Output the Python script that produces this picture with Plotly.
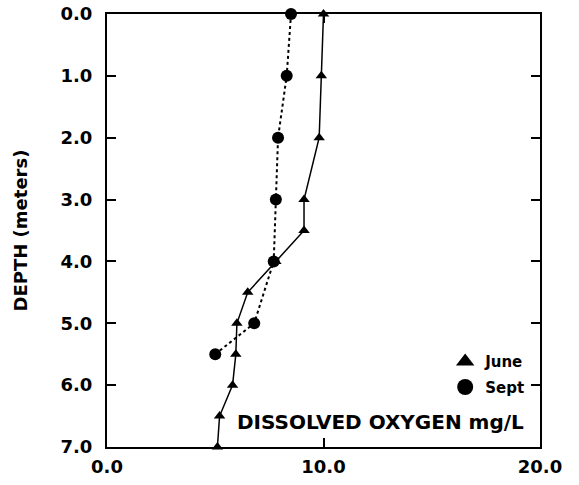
import plotly.graph_objects as go

# Dissolved oxygen profiles (mg/L) by depth (m)
june_depth = [0, 1, 2, 3, 3.5, 4, 4.5, 5, 5.5, 6, 6.5, 7]
june_do = [10.0, 9.9, 9.8, 9.1, 9.1, 7.8, 6.5, 6.0, 5.95, 5.8, 5.2, 5.1]

sept_depth = [0, 1, 2, 3, 4, 5, 5.5]
sept_do = [8.5, 8.3, 7.9, 7.8, 7.7, 6.8, 5.0]

x_ticks = [0, 10, 20]
x_tick_labels = ["0.0", "10.0", "20.0"]
y_ticks = [0, 1, 2, 3, 4, 5, 6, 7]
y_tick_labels = ["0.0", "1.0", "2.0", "3.0", "4.0", "5.0", "6.0", "7.0"]

FONT = "DejaVu Sans"

fig = go.Figure()

fig.add_trace(go.Scatter(
    x=june_do, y=june_depth, mode="lines+markers", name="June",
    line=dict(color="black", width=1.5),
    marker=dict(symbol="triangle-up", size=10, color="black"),
    cliponaxis=False, showlegend=False,
))
fig.add_trace(go.Scatter(
    x=sept_do, y=sept_depth, mode="lines+markers", name="Sept",
    line=dict(color="black", width=2, dash="dot"),
    marker=dict(symbol="circle", size=12, color="black"),
    cliponaxis=False, showlegend=False,
))

# marker-only legend entries
fig.add_trace(go.Scatter(
    x=[None], y=[None], mode="markers", name="June", legendgroup="june",
    marker=dict(symbol="triangle-up", size=16, color="black"),
))
fig.add_trace(go.Scatter(
    x=[None], y=[None], mode="markers", name="Sept", legendgroup="sept",
    marker=dict(symbol="circle", size=16, color="black"),
))

axis_common = dict(
    showgrid=False, zeroline=False, automargin=False,
    showline=True, linecolor="black", linewidth=2, mirror="ticks",
    ticks="inside", ticklen=9, tickwidth=1.5, tickcolor="black",
    tickfont=dict(family=FONT, size=18, color="black", weight="bold"),
)

fig.update_layout(
    width=579, height=485,
    margin=dict(l=107, r=39, t=14, b=38, autoexpand=False),
    paper_bgcolor="white", plot_bgcolor="white",
    xaxis=dict(range=[0, 20], tickvals=x_ticks, ticktext=x_tick_labels,
               ticklabelstandoff=2, **axis_common),
    yaxis=dict(range=[7, 0], tickvals=y_ticks, ticktext=y_tick_labels,
               ticklabelstandoff=9,
               title=dict(text="DEPTH (meters)", standoff=28,
                          font=dict(family=FONT, size=18, color="black", weight="bold")),
               **axis_common),
    legend=dict(
        x=0.975, y=0.235, xanchor="right", yanchor="top",
        bgcolor="rgba(0,0,0,0)", tracegroupgap=3,
        font=dict(family=FONT, size=15, color="black", weight="bold"),
        itemwidth=30,
    ),
    annotations=[dict(
        text="DISSOLVED OXYGEN mg/L", xref="paper", yref="paper",
        x=0.967, y=0.058, xanchor="right", yanchor="middle", showarrow=False,
        font=dict(family=FONT, size=20, color="black", weight="bold"),
    )],
)

fig.write_html("out.html")
